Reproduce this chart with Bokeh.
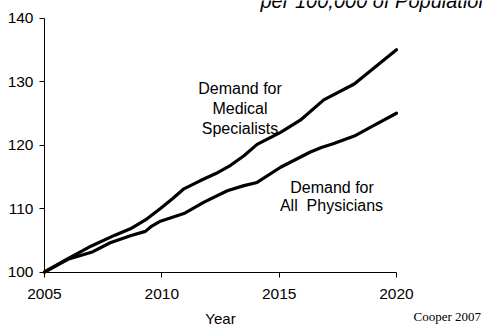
from bokeh.plotting import figure
from bokeh.models import Label, FixedTicker, Range1d, LinearAxis
from bokeh.embed import file_html
from bokeh.resources import INLINE

spec_years = [2005, 2006, 2007, 2008, 2008.66, 2009.3, 2009.94, 2010.44, 2010.94, 2011.65, 2012.3,
              2012.93, 2013.5, 2014.06, 2015.06, 2015.9, 2016.9, 2018.2, 2019, 2020]
spec_vals = [100, 102.1, 104.1, 105.8, 106.8, 108.2, 110.0, 111.5, 113.1, 114.4, 115.5,
             116.8, 118.3, 120.1, 122.0, 123.9, 127.1, 129.6, 132, 135]

all_years = [2005, 2006, 2007, 2007.8, 2008.66, 2009.3, 2009.52, 2009.94, 2010.94, 2011.8, 2012.79,
             2013.5, 2014.06, 2015.06, 2016.33, 2016.8, 2017.3, 2018.2, 2019, 2020]
all_vals = [100, 102, 103.1, 104.6, 105.7, 106.4, 107.1, 108.0, 109.2, 111.0, 112.8,
            113.6, 114.1, 116.5, 118.9, 119.6, 120.2, 121.4, 123, 125]

x_ticks = [2005, 2010, 2015, 2020]
y_ticks = [100, 110, 120, 130, 140]

FONT = "Liberation Sans"

# frame covers the whole canvas; axes are pinned at the data origin
W, H = 482, 327
LEFT, RIGHT, TOP, BOTTOM = 44, 396, 17.5, 271.5
px_per_year = (RIGHT - LEFT) / 15.0
px_per_unit = (BOTTOM - TOP) / 40.0
x0 = 2005 - LEFT / px_per_year
x1 = 2020 + (W - RIGHT) / px_per_year
y0 = 100 - (H - BOTTOM) / px_per_unit
y1 = 140 + TOP / px_per_unit

def dx(px):
    return x0 + px / px_per_year

def dy(py):
    return y1 - py / px_per_unit

p = figure(width=W, height=H, output_backend="svg", toolbar_location=None,
           x_range=Range1d(x0, x1), y_range=Range1d(y0, y1),
           x_axis_location=None, y_axis_location=None,
           min_border=0, min_border_left=0, min_border_right=0,
           min_border_top=0, min_border_bottom=0)
p.outline_line_color = None
p.grid.visible = False
p.background_fill_color = "white"
p.border_fill_color = "white"

xa = LinearAxis(fixed_location=100, bounds=(2005, 2020), ticker=FixedTicker(ticks=x_ticks))
ya = LinearAxis(fixed_location=2005, bounds=(100, 140), ticker=FixedTicker(ticks=y_ticks))
for ax in (xa, ya):
    ax.axis_line_color = "black"
    ax.axis_line_width = 1
    ax.major_tick_out = 5
    ax.major_tick_in = 0
    ax.minor_tick_out = 0
    ax.minor_tick_in = 0
    ax.major_tick_line_color = "black"
    ax.major_label_text_font = FONT
    ax.major_label_text_font_size = "15.5px"
    ax.major_label_text_color = "black"
    ax.major_label_text_font_style = "normal"
xa.major_label_standoff = 12
ya.major_label_standoff = 6
xa.axis_label = "Year"
xa.axis_label_text_font = FONT
xa.axis_label_text_font_size = "15px"
xa.axis_label_text_font_style = "normal"
xa.axis_label_text_color = "black"
xa.axis_label_standoff = 7
p.add_layout(xa, "below")
p.add_layout(ya, "left")

p.line(spec_years, spec_vals, line_color="black", line_width=3.2, line_join="round", line_cap="round")
p.line(all_years, all_vals, line_color="black", line_width=3.2, line_join="round", line_cap="round")

def lab(px, py, t, size=16, font=FONT, style="normal", align="center"):
    # py is the wanted baseline; Bokeh draws its alphabetic baseline about half an em lower
    p.add_layout(Label(x=dx(px), y=dy(py - 0.5 * size), text=t, text_font=font,
                       text_font_size=f"{size}px", text_font_style=style, text_align=align,
                       text_baseline="alphabetic", text_color="black"))

lab(239.5, 95.7, "Demand for")
lab(239.5, 115.7, "Medical")
lab(239.5, 135.7, "Specialists")
lab(331.5, 195, "Demand for")
lab(331.0, 213.3, "All\u00a0 Physicians")
lab(413, 322.3, "Cooper 2007", size=13, font="Liberation Serif", align="left")
lab(260, 10, "per 100,000 of Population", size=20, style="italic", align="left")

with open("out.html", "w") as f:
    f.write(file_html(p, INLINE))
